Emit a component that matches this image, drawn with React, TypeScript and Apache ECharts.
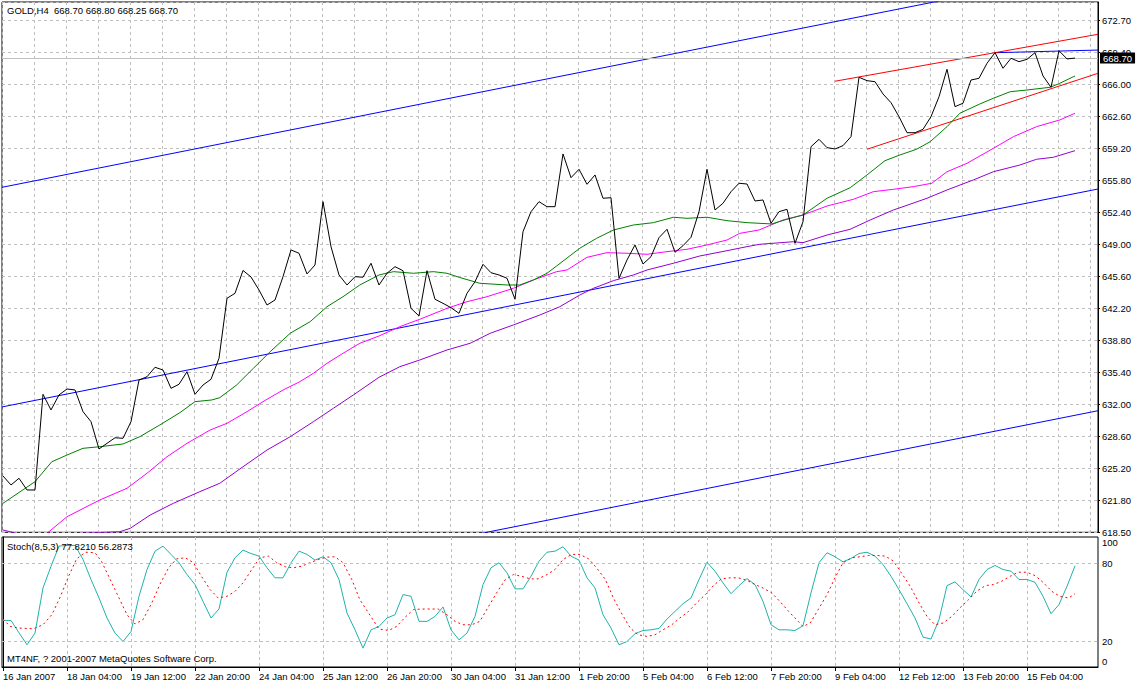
import React, { useEffect, useRef } from "react";
import * as echarts from "echarts";

// ---------- DATA ----------
const xLabels = [
  "16 Jan 2007", "18 Jan 04:00", "19 Jan 12:00", "22 Jan 20:00", "24 Jan 04:00",
  "25 Jan 12:00", "26 Jan 20:00", "30 Jan 04:00", "31 Jan 12:00", "1 Feb 20:00",
  "5 Feb 04:00", "6 Feb 12:00", "7 Feb 20:00", "9 Feb 04:00", "12 Feb 12:00",
  "13 Feb 20:00", "15 Feb 04:00",
];

const priceTickLabels = [
  "618.50", "621.80", "625.20", "628.60", "632.00", "635.40", "638.80", "642.20",
  "645.60", "649.00", "652.40", "655.80", "659.20", "662.60", "666.00", "669.40", "672.70",
];

const closes = [
  624.46, 623.51, 624.22, 622.98, 622.98, 633.11, 631.45, 633.04, 633.67, 633.57,
  631.27, 630.21, 627.32, 627.92, 628.51, 628.45, 630.21, 634.62, 634.97, 635.97,
  635.68, 633.74, 634.17, 635.5, 633.11, 634.09, 634.7, 636.92, 643.27, 643.8,
  646.22, 645.53, 644.15, 642.56, 643.09, 645.56, 648.39, 648.04, 645.85, 646.8,
  653.5, 648.74, 645.74, 644.68, 645.56, 645.5, 646.98, 644.68, 645.92, 646.62,
  646.19, 642.21, 641.4, 646.19, 643.17, 642.74, 642.28, 641.68, 643.8, 645.03,
  646.87, 645.98, 645.74, 645.39, 643.17, 650.32, 652.44, 653.5, 652.97, 652.97,
  658.55, 656.04, 656.93, 655.34, 656.33, 653.86, 653.92, 645.39, 647.33, 648.92,
  646.9, 647.68, 649.69, 650.58, 648.14, 648.84, 649.73, 652.44, 656.93, 652.62,
  653.33, 654.56, 655.45, 655.37, 653.57, 653.68, 651.21, 652.44, 652.69, 649.09,
  651.38, 659.32, 660.1, 659.22, 659.08, 659.43, 660.38, 666.67, 666.31, 666.2,
  664.9, 663.98, 662.5, 660.8, 660.8, 661.16, 662.5, 664.61, 667.52, 663.56,
  663.92, 666.38, 666.56, 668.15, 669.27, 667.62, 668.68, 668.32, 668.57, 669.27,
  666.81, 665.61, 669.48, 668.61, 668.7,
];

const greenMA = [
  [0, 621.57], [4, 623.86], [6.1, 625.97], [8, 626.68], [10, 627.39], [12.1, 627.56],
  [15, 627.85], [17.1, 628.62], [19.6, 629.86], [22.1, 631.16], [24, 632.33], [26.1, 632.51],
  [27.1, 632.75], [29.2, 634.09], [31.3, 635.86], [33.4, 637.62], [35.9, 639.57], [38.4, 640.8],
  [40.5, 642.38], [42.5, 643.44], [44.6, 644.68], [47, 645.74], [48.8, 646.09], [51.3, 645.92],
  [53.8, 646.09], [55.5, 645.92], [57.1, 645.47], [59.6, 644.86], [63, 644.68], [64.6, 644.68],
  [66.3, 645.21], [68, 645.92], [69.2, 646.69], [72.1, 648.57], [74.2, 649.62], [76.3, 650.5],
  [78.8, 651.03], [81.3, 651.28], [83.8, 651.85], [85.5, 651.74], [88, 651.85], [90.5, 651.49],
  [93, 651.28], [96.1, 651.14], [98, 651.64], [100, 652.09], [103, 653.86], [105.9, 654.98],
  [108, 656.33], [110.25, 657.84], [112.1, 658.44], [114.2, 659.05], [115.9, 659.85], [118, 661.44],
  [119.6, 662.86], [122.1, 663.84], [123.8, 664.45], [125.9, 665.14], [128, 665.32], [130.9, 665.61],
  [132.1, 666.03], [134, 666.81],
];

const magentaMA = [
  [4, 617.9], [5.5, 618.39], [8, 620.15], [12.1, 621.92], [15.5, 623.16], [18, 624.75],
  [20.5, 626.5], [23, 627.92], [25.9, 629.33], [28, 630.04], [30.5, 631.27], [32.5, 632.33],
  [35, 633.56], [37.1, 634.44], [38.8, 635.33], [40.5, 636.39], [42.5, 637.45], [44.6, 638.51],
  [47, 639.28], [49.6, 640.27], [52.1, 641.05], [55.5, 642.21], [58, 642.91], [60.5, 643.44],
  [63.8, 644.33], [66.3, 645.21], [69.2, 646.09], [70.5, 646.27], [73, 647.61], [75.5, 648.1],
  [78, 648.04], [80.5, 647.93], [83, 648.21], [85.5, 648.46], [88, 648.92], [90.5, 649.44],
  [92.1, 650.15], [94.5, 650.5], [97.5, 651.56], [100, 652.09], [103, 653.04], [106.3, 653.75],
  [108.8, 654.56], [111.3, 654.81], [113.8, 655.09], [116.1, 655.45], [118, 656.67], [120.5, 657.56],
  [123.8, 659.15], [126.3, 660.38], [129.2, 661.44], [132.1, 662.15], [134, 662.86],
];

const purpleMA = [
  [0, 618.74], [1.7, 618.39], [5, 618.15], [8, 618.2], [9.6, 618.39], [14.6, 618.56],
  [15.9, 618.92], [18.4, 620.33], [21.3, 621.57], [24.6, 622.8], [27.1, 623.69], [30, 625.44],
  [33, 627.21], [35.9, 628.62], [38.8, 630.21], [41.3, 631.63], [43.8, 633.04], [47, 634.91],
  [49.6, 636.03], [52.1, 636.74], [55.5, 637.8], [58.4, 638.51], [60.9, 639.57], [63.8, 640.45],
  [67.1, 641.5], [69.6, 642.38], [72.1, 643.62], [73.8, 644.33], [76.3, 645.14], [78.8, 645.74],
  [80.5, 646.27], [83.8, 646.98], [87.1, 647.75], [90.5, 648.31], [93, 648.74], [94.6, 648.99],
  [98.8, 649.26], [100, 649.16], [103, 649.97], [105.9, 650.58], [108.4, 651.56], [111.3, 652.62],
  [112.5, 652.97], [115.5, 653.86], [118, 654.74], [121.3, 655.8], [123.8, 656.67], [127.1, 657.38],
  [129.2, 657.99], [131.3, 658.2], [134, 658.9],
];

// trend / channel lines: [bar, price] end points
const blueUpper = [[-0.125, 655.02], [136.875, 678.09]];
const blueMiddle = [[-0.125, 631.77], [136.875, 654.84]];
const blueLower = [[-0.125, 608.3], [136.875, 631.37]];
const blueHigh = [[124, 669.27], [136.875, 669.55]];
const redUpper = [[104, 666.25], [136.875, 671.22]];
const redLower = [[108, 659.05], [136.875, 667.09]];
const lastPrice = 668.7;

const stochMain = [
  35.8, 35.8, 26.3, 17.1, 26.1, 60.8, 77.5, 93.0, 93.5, 93.5,
  82.7, 67.3, 53.1, 37.7, 26.1, 19.6, 27.3, 54.4, 75.0, 89.1,
  93.0, 86.6, 80.2, 71.1, 63.4, 50.5, 37.7, 44.6, 72.9, 84.0,
  89.9, 87.3, 85.3, 76.3, 68.6, 68.6, 80.2, 89.1, 86.6, 82.2,
  84.8, 80.2, 67.3, 41.5, 28.6, 14.5, 28.6, 31.2, 37.7, 40.2,
  55.7, 54.4, 35.1, 35.1, 38.9, 46.2, 28.6, 20.9, 26.1, 38.9,
  63.4, 76.3, 80.2, 72.4, 60.1, 60.1, 69.8, 81.4, 88.3, 89.1,
  92.5, 85.3, 82.2, 68.6, 60.8, 40.2, 30.0, 17.1, 19.6, 25.6,
  28.1, 28.6, 29.7, 36.9, 42.8, 48.7, 53.1, 67.3, 80.6, 73.7,
  64.7, 56.4, 62.6, 68.0, 63.4, 50.5, 32.5, 28.6, 28.6, 28.1,
  31.7, 57.0, 80.2, 87.9, 84.8, 80.9, 83.5, 87.3, 88.3, 85.3,
  78.8, 69.8, 59.5, 48.7, 37.7, 23.0, 21.5, 36.4, 62.6, 65.5,
  59.5, 53.9, 67.3, 75.0, 78.1, 75.0, 73.7, 67.3, 67.3, 65.2,
  54.4, 41.0, 48.0, 62.1, 77.82,
];

const stochSignal = [
  [0, 36.9], [0.9, 31.2], [1.9, 30.0], [3.8, 29.4], [5, 32.5], [6.1, 40.2], [7.1, 53.1],
  [8.2, 69.8], [9.2, 83.2], [10.3, 88.3], [11.5, 87.9], [12.3, 81.4], [13.4, 67.3], [14.4, 54.4],
  [15.5, 40.2], [16.5, 33.1], [17.5, 36.4], [18.6, 49.3], [19.6, 63.4], [20.7, 76.3], [21.7, 83.2],
  [22.8, 84.0], [23.8, 80.2], [24.8, 69.8], [25.9, 59.5], [26.9, 53.1], [28, 54.4], [29, 58.2],
  [30, 64.7], [31.1, 75.0], [32.1, 84.0], [33.2, 85.3], [34.2, 80.2], [35.3, 77.1], [36.3, 76.3],
  [37.3, 77.5], [38.4, 80.2], [39.4, 82.7], [40.5, 84.5], [41.5, 84.8], [42.5, 80.2], [43.6, 67.3],
  [44.6, 51.8], [45.7, 41.5], [47, 29.2], [48.2, 28.1], [49.2, 31.2], [50.3, 38.5], [51.3, 44.1],
  [52.3, 44.6], [53.4, 44.6], [54.4, 44.6], [55.5, 40.2], [56.5, 35.1], [57.5, 32.5], [58.6, 32.5],
  [59.6, 35.1], [60.7, 46.6], [61.7, 57.0], [62.8, 67.3], [63.8, 71.1], [64.8, 69.8], [65.9, 67.8],
  [66.9, 67.8], [68, 71.1], [69, 75.0], [70, 82.7], [71.1, 86.6], [72.1, 86.6], [73.2, 83.2],
  [74.2, 76.3], [75.3, 67.3], [76.3, 53.1], [77.3, 41.5], [78.4, 30.0], [79.4, 24.8], [80.5, 23.5],
  [81.5, 24.8], [82.5, 28.6], [83.6, 32.5], [84.6, 37.7], [85.7, 42.8], [86.7, 49.3], [87.8, 55.7],
  [88.8, 62.6], [89.8, 67.8], [90.9, 68.6], [91.9, 68.6], [93, 66.7], [94, 63.4], [95, 60.8],
  [96.1, 57.0], [97.1, 50.5], [98.2, 42.8], [99.2, 36.4], [100, 31.2], [100.9, 33.8], [101.9, 44.1],
  [103, 55.7], [104, 68.6], [105, 80.2], [106.1, 84.0], [107.1, 84.8], [108.2, 85.8], [109.2, 85.8],
  [110.3, 85.3], [111.3, 81.4], [112.3, 72.4], [113.4, 62.1], [114.4, 50.5], [115.5, 38.9],
  [116.5, 32.5], [117.5, 33.8], [118.6, 38.9], [119.6, 45.4], [120.7, 51.8], [121.7, 58.2],
  [122.8, 62.6], [123.8, 63.4], [124.8, 65.9], [125.9, 69.8], [126.9, 72.9], [128, 72.9],
  [129, 70.3], [130, 65.2], [131.1, 58.2], [132.1, 54.4], [133.2, 53.1], [134, 56.29],
];

const stochLevels = [20, 80];
// MT4 draws the 0 / 100 labels just inside the panel edges
const stochEdgeLabels = [
  { at: 4.5, text: "0" },
  { at: 95.5, text: "100" },
];

// ---------- STYLE ----------
const FONT = "'Liberation Sans', Arial, sans-serif";
const FS = 9.5;
const GRID_COLOR = "#c0c0c0";
const DASH = [3, 3];
const X_MIN = -0.125;
const X_MAX = 136.875;
const P_MIN = 618.5;
const P_STEP = 3.3875;
const MAIN_H = 530.3;
const PX_PER_STEP = 32;
const P_MAX = P_MIN + (MAIN_H / PX_PER_STEP) * P_STEP;

const textBase = { fontFamily: FONT, fontSize: FS, color: "#000" };

function lineSeries(name: string, data: number[][], color: string, extra: any = {}) {
  return {
    name,
    type: "line",
    xAxisIndex: 0,
    yAxisIndex: 0,
    data,
    showSymbol: false,
    symbol: "none",
    clip: true,
    silent: true,
    lineStyle: { color, width: 1 },
    ...extra,
  };
}

export default function App() {
  const ref = useRef<HTMLDivElement>(null);

  useEffect(() => {
    if (!ref.current) return;
    const chart = echarts.init(ref.current, null, { renderer: "svg" });
    const labelBars = xLabels.map((_, k) => k * 8);

    const option: any = {
      animation: false,
      backgroundColor: "#fff",
      textStyle: { fontFamily: FONT },
      title: [
        { text: "GOLD,H4  668.70 668.80 668.25 668.70", left: 7, top: 5, padding: 0, textStyle: { ...textBase, fontWeight: "normal" } },
        { text: "Stoch(8,5,3) 77.8210 56.2873", left: 7, top: 541, padding: 0, textStyle: { ...textBase, fontWeight: "normal" } },
        { text: "MT4NF, ? 2001-2007 MetaQuotes Software Corp.", left: 7, top: 653, padding: 0, textStyle: { ...textBase, fontWeight: "normal" } },
      ],
      grid: [
        { left: 2, top: 2, width: 1096, height: MAIN_H, show: true, borderColor: "#000", borderWidth: 1, backgroundColor: "#fff" },
        { left: 2, top: 537, width: 1096, height: 130, show: true, borderColor: "#000", borderWidth: 1, backgroundColor: "#fff" },
      ],
      xAxis: [
        {
          gridIndex: 0, type: "value", min: X_MIN, max: X_MAX, interval: 4,
          axisLine: { show: false }, axisTick: { show: false }, axisLabel: { show: false },
          splitLine: { show: true, lineStyle: { color: GRID_COLOR, type: DASH, width: 1 } },
        },
        {
          gridIndex: 1, type: "value", min: X_MIN, max: X_MAX, interval: 4,
          axisLine: { show: true, onZero: false, lineStyle: { color: "#000", width: 1 } },
          axisTick: { show: true, customValues: labelBars, length: 4, lineStyle: { color: "#000" } },
          axisLabel: {
            show: true, customValues: labelBars, align: "left", margin: 4,
            ...textBase,
            formatter: (v: number) => xLabels[Math.round(v / 8)] ?? "",
          },
          splitLine: { show: true, lineStyle: { color: GRID_COLOR, type: DASH, width: 1 } },
        },
      ],
      yAxis: [
        { gridIndex: 0, type: "value", min: P_MIN, max: P_MAX, show: false },
        {
          gridIndex: 0, type: "value", position: "right", min: 0, max: (P_MAX - P_MIN) / P_STEP, interval: 1,
          axisLine: { show: true, lineStyle: { color: "#000" } },
          axisTick: { show: true, length: 2, lineStyle: { color: "#000" } },
          axisLabel: {
            show: true, margin: 4, align: "left", showMaxLabel: false, ...textBase,
            formatter: (v: number) => {
              const k = Math.round(v);
              return Math.abs(v - k) < 1e-6 ? priceTickLabels[k] ?? "" : "";
            },
          },
          splitLine: { show: true, lineStyle: { color: GRID_COLOR, type: DASH, width: 1 } },
        },
        {
          gridIndex: 1, type: "value", position: "right", min: 0, max: 100, interval: 20,
          axisLine: { show: true, lineStyle: { color: "#000" } },
          axisTick: { show: true, customValues: stochLevels, length: 2, lineStyle: { color: "#000" } },
          axisLabel: {
            show: true, customValues: stochLevels, margin: 4, align: "left", ...textBase,
            formatter: (v: number) => String(Math.round(v)),
          },
          splitLine: { show: false },
        },
        {
          gridIndex: 1, type: "value", position: "right", min: 0, max: 100,
          axisLine: { show: false }, axisTick: { show: false },
          axisLabel: {
            show: true, customValues: stochEdgeLabels.map((e) => e.at), margin: 4, align: "left", ...textBase,
            formatter: (v: number) => stochEdgeLabels.find((e) => Math.abs(e.at - v) < 1e-6)?.text ?? "",
          },
          splitLine: { show: false },
        },
      ],
      series: [
        lineSeries("Channel upper", blueUpper, "#0000ff", {
          markLine: {
            silent: true, symbol: ["none", "none"], animation: false,
            lineStyle: { color: GRID_COLOR, type: "solid", width: 1 },
            label: {
              show: true, position: "end", distance: 2, formatter: lastPrice.toFixed(2),
              backgroundColor: "#000", color: "#fff", fontFamily: FONT, fontSize: FS, padding: [1, 3, 0, 3],
            },
            data: [{ yAxis: lastPrice }],
          },
        }),
        lineSeries("Channel middle", blueMiddle, "#0000ff"),
        lineSeries("Channel lower", blueLower, "#0000ff"),
        lineSeries("High line", blueHigh, "#0000ff"),
        lineSeries("Wedge upper", redUpper, "#ff0000"),
        lineSeries("Wedge lower", redLower, "#ff0000"),
        lineSeries("MA slow", purpleMA, "#9400d3"),
        lineSeries("MA mid", magentaMA, "#ff00ff"),
        lineSeries("MA fast", greenMA, "#008000"),
        lineSeries("GOLD close", closes.map((c, i) => [i, c]), "#000000", { z: 5 }),
        {
          name: "Stoch main", type: "line", xAxisIndex: 1, yAxisIndex: 2,
          data: stochMain.map((v, i) => [i, v]),
          showSymbol: false, symbol: "none", silent: true,
          lineStyle: { color: "#20b2aa", width: 1 },
          markLine: {
            silent: true, symbol: ["none", "none"], animation: false,
            lineStyle: { color: GRID_COLOR, type: DASH, width: 1 },
            label: { show: false },
            data: stochLevels.map((l) => ({ yAxis: l })),
          },
        },
        {
          name: "Stoch signal", type: "line", xAxisIndex: 1, yAxisIndex: 2,
          data: stochSignal,
          showSymbol: false, symbol: "none", silent: true,
          lineStyle: { color: "#ff0000", width: 1, type: [2, 3] },
        },
      ],
    };

    chart.setOption(option);
    return () => chart.dispose();
  }, []);

  return (
    <div
      ref={ref}
      style={{ position: "absolute", left: 0, top: 0, width: 1136, height: 685, background: "#fff" }}
    />
  );
}
